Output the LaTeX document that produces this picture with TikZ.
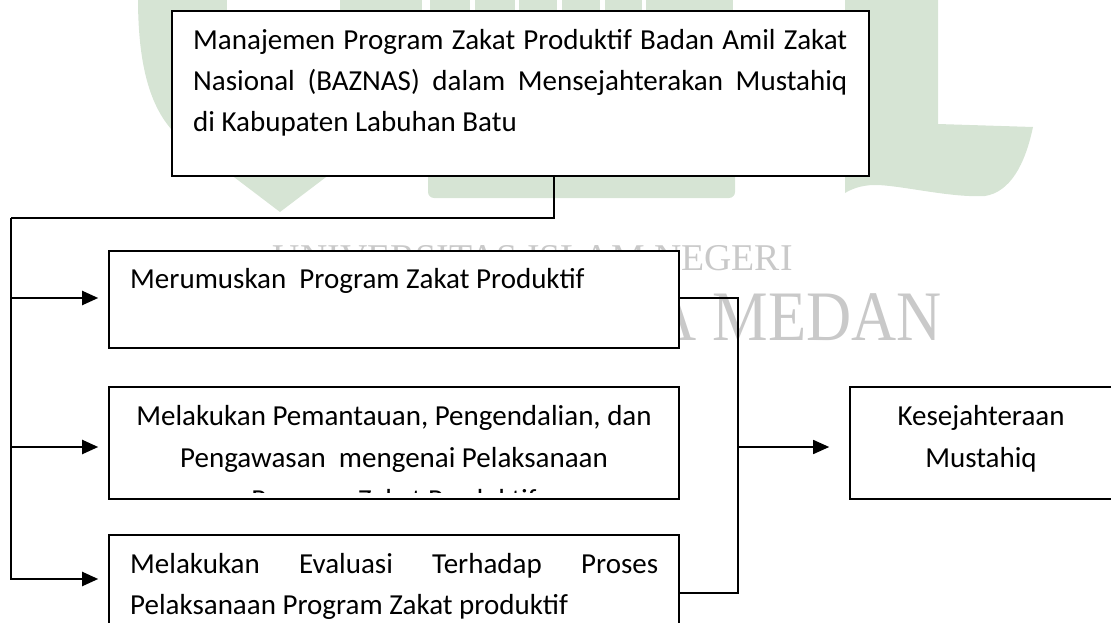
\documentclass[tikz,border=0pt]{standalone}
\usepackage{fontspec}
\setmainfont{Carlito}
\newfontfamily\wmfont{Liberation Serif}
\usetikzlibrary{arrows.meta}
\definecolor{wmgreen}{RGB}{214,228,212}
\definecolor{wmgray}{RGB}{201,201,201}
\tikzset{
  boxnode/.style={draw=black, line width=1.6pt, fill=white, inner sep=0pt, rectangle},
  conn/.style={line width=1.3pt},
  arr/.style={line width=2pt, -{Triangle[length=16pt,width=14pt]}},
  txt/.style={inner sep=0pt, font=\fontsize{29}{41}\selectfont},
  wmtext/.style={inner sep=0pt, text=wmgray},
}
\begin{document}
\begin{tikzpicture}[x=1pt,y=-1pt]
\useasboundingbox (0,0) rectangle (1111,623);
% ---- watermark (background) ----
\fill[wmgreen] (138,-2) -- (422,-2) .. controls (422,50) and (415,100) .. (388,130)
  -- (280,212) -- (172,130) .. controls (145,100) and (138,50) .. (138,-2) -- cycle;
\fill[white] (227,-2) rectangle (340,12);
\foreach \a/\b in {430/470,475/515,519/557,562/600,605/642,646/733}
  \fill[wmgreen] (\a,-2) rectangle (\b,40);
\fill[wmgreen, rounded corners=6pt] (428,120) rectangle (735,198);
\fill[wmgreen] (845,-2) -- (938,-2) -- (938,124) -- (1033,127)
  .. controls (1025,165) and (1010,192) .. (985,196)
  .. controls (950,198) and (900,185) .. (875,185)
  .. controls (860,185) and (850,190) .. (845,193) -- cycle;
\node[wmtext, anchor=base east, font=\wmfont\fontsize{37.8}{40}\selectfont] (wm1) at (793,270) {UNIVERSITAS ISLAM NEGERI};
\node[wmtext, anchor=base east, font=\wmfont\fontsize{71}{75}\selectfont] (wm2) at (942,340) {\scalebox{0.88}[1]{SUMATERA UTARA MEDAN}};
% ---- boxes ----
\node[boxnode, minimum width=697pt, minimum height=165pt] (top) at (520.5,93.5) {};
\node[boxnode, minimum width=570pt, minimum height=97pt] (b1) at (394,299.5) {};
\node[boxnode, minimum width=570pt, minimum height=112pt] (b2) at (394,443) {};
\node[boxnode, minimum width=570pt, minimum height=110pt] (b3) at (394,590) {};
\node[boxnode, minimum width=265pt, minimum height=112pt] (k) at (982.5,443) {};
% ---- texts ----
\node[txt, anchor=base west] (t0) at (193,50) {\parbox[t]{654pt}{Manajemen Program Zakat Produktif Badan Amil Zakat\linebreak Nasional (BAZNAS) dalam Mensejahterakan Mustahiq\linebreak di Kabupaten Labuhan Batu}};
\node[txt, anchor=base west] (t1) at (130,288) {Merumuskan\ \ Program Zakat Produktif};
\begin{scope}
  \clip (109,387) rectangle (679,492.5);
  \node[txt, anchor=base, font=\fontsize{29}{42}\selectfont] (t2) at (394,425) {\parbox[t]{560pt}{\centering Melakukan Pemantauan, Pengendalian, dan\\ Pengawasan\ \ mengenai Pelaksanaan\\ Program Zakat Produktif}};
\end{scope}
\node[txt, anchor=base west] (t3) at (130,573) {\parbox[t]{528pt}{Melakukan Evaluasi Terhadap Proses\linebreak Pelaksanaan Program Zakat produktif}};
\node[txt, anchor=base, font=\fontsize{29}{42}\selectfont] (t4) at (981,425) {\parbox[t]{240pt}{\centering Kesejahteraan\\ Mustahiq}};
% ---- connectors ----
\coordinate (j1) at (554,218);
\coordinate (j2) at (11,218);
\coordinate (j3) at (11,580);
\draw[conn] (top.south -| j1) -- (j1) -- (j2);
\draw[line width=2pt] (j2) -- (j3);
\coordinate (s1) at (11,298);
\coordinate (s2) at (11,447);
\coordinate (s3) at (11,579);
\draw[arr, shorten >=10pt] (s1) -- (s1 -| b1.west);
\draw[arr, shorten >=10pt] (s2) -- (s2 -| b2.west);
\draw[arr, shorten >=10pt] (s3) -- (s3 -| b3.west);
\coordinate (r1) at (738,298);
\coordinate (r2) at (738,593);
\coordinate (r3) at (738,447);
\draw[conn] (r1 -| b1.east) -- (r1) -- (r2) -- (r2 -| b3.east);
\draw[arr, line width=1.5pt, shorten >=20pt] (r3) -- (r3 -| k.west);
\end{tikzpicture}
\end{document}
